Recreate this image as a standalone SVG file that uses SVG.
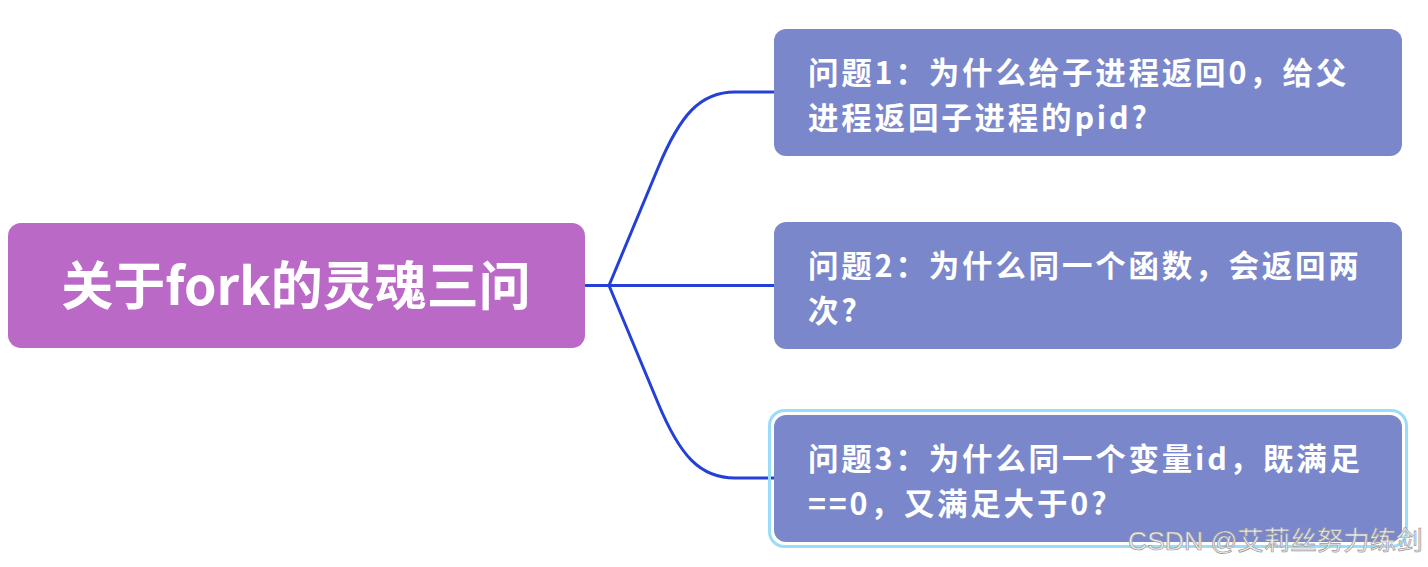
<svg xmlns="http://www.w3.org/2000/svg" width="1428" height="567" viewBox="0 0 1428 567">
<style>
.root{fill:#BA69C7}
.child{fill:#7A87CB}
.t{font-family:"Noto Sans CJK SC","Noto Sans",sans-serif;font-weight:bold;fill:#FFFFFF}
.tr{font-size:52px}
.tc{font-size:30.5px;letter-spacing:2.8px}
.conn{fill:none;stroke:#2440D8;stroke-width:3;stroke-linecap:round}
.wm{font-family:"Liberation Sans","Noto Sans CJK SC",sans-serif;font-size:26.5px;fill:#EEEEEE;stroke:#9A9A9A;stroke-width:0.7}
</style>
<rect width="1428" height="567" fill="#FFFFFF"/>
<g id="connectors">
<path class="conn" d="M585,285.5 H609" stroke-width="4.5"/>
<path class="conn" d="M609,285.5 L658,168 C680,115 700,92 735,92 H774"/>
<path class="conn" d="M609,285.5 H774"/>
<path class="conn" d="M609,285.5 L658,403 C680,456 700,478 735,478 H774"/>
</g>
<g id="root">
<rect class="root" x="8" y="223" width="577" height="125" rx="13"/>
<text class="t tr" x="296" y="305" text-anchor="middle">关于fork的灵魂三问</text>
</g>
<g id="q1">
<rect class="child" x="774" y="29" width="628" height="127" rx="12"/>
<text class="t tc" x="808" y="84">问题1：为什么给子进程返回0，给父</text>
<text class="t tc" x="808" y="128.5">进程返回子进程的pid?</text>
</g>
<g id="q2">
<rect class="child" x="774" y="222" width="628" height="127" rx="12"/>
<text class="t tc" x="808" y="277">问题2：为什么同一个函数，会返回两</text>
<text class="t tc" x="808" y="321.5">次?</text>
</g>
<g id="q3">
<rect x="769.5" y="410.5" width="637" height="136" rx="15" fill="none" stroke="#9ADCF9" stroke-width="3"/>
<rect class="child" x="774" y="415" width="628" height="127" rx="12"/>
<text class="t tc" x="808" y="470">问题3：为什么同一个变量id，既满足</text>
<text class="t tc" x="808" y="514.5">==0，又满足大于0?</text>
</g>
<text class="wm" x="1128" y="550">CSDN @艾莉丝努力练剑</text>
</svg>
